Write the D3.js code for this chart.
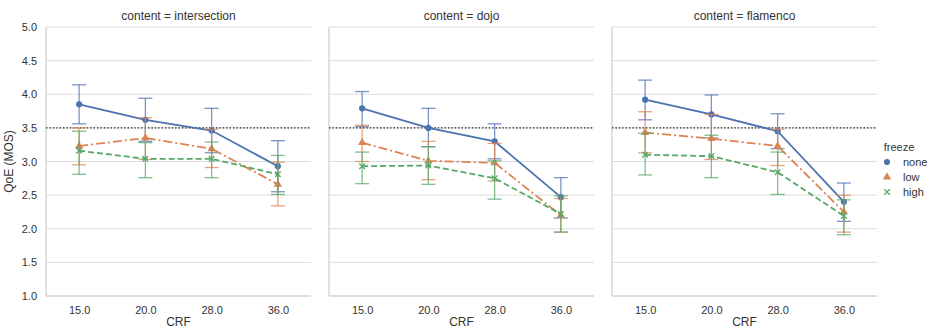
<!DOCTYPE html>
<html>
<head>
<meta charset="utf-8">
<script src="https://cdn.jsdelivr.net/npm/d3@7"></script>
<style>
  body { margin: 0; background: #fff; }
  text { font-family: "Liberation Sans", Arial, sans-serif; fill: #333; }
</style>
</head>
<body>
<div id="chart"></div>
<script>
// data
const contents = ['intersection', 'dojo', 'flamenco'];
const crfLabels = ['15.0', '20.0', '28.0', '36.0'];
const freezeLevels = ['none', 'low', 'high'];
const yTicks = [1.0, 1.5, 2.0, 2.5, 3.0, 3.5, 4.0, 4.5, 5.0];
const threshold = 3.5;

// mean, lower, upper per content -> freeze -> crf
const intersectionNone = [[3.85, 3.56, 4.14], [3.62, 3.30, 3.94], [3.46, 3.13, 3.79], [2.93, 2.55, 3.31]];
const intersectionLow  = [[3.23, 2.95, 3.50], [3.35, 3.03, 3.65], [3.19, 2.91, 3.48], [2.66, 2.34, 2.99]];
const intersectionHigh = [[3.16, 2.81, 3.45], [3.04, 2.76, 3.28], [3.04, 2.76, 3.29], [2.81, 2.51, 3.09]];

const dojoNone = [[3.79, 3.52, 4.04], [3.50, 3.22, 3.79], [3.30, 3.04, 3.56], [2.47, 2.16, 2.76]];
const dojoLow  = [[3.28, 3.00, 3.54], [3.01, 2.73, 3.30], [2.98, 2.71, 3.27], [2.20, 1.95, 2.45]];
const dojoHigh = [[2.93, 2.67, 3.14], [2.94, 2.66, 3.22], [2.75, 2.44, 3.01], [2.22, 1.95, 2.49]];

const flamencoNone = [[3.92, 3.62, 4.21], [3.70, 3.35, 3.99], [3.45, 3.19, 3.71], [2.40, 2.11, 2.68]];
const flamencoLow  = [[3.43, 3.13, 3.74], [3.34, 3.03, 3.70], [3.23, 2.94, 3.48], [2.25, 1.95, 2.50]];
const flamencoHigh = [[3.10, 2.80, 3.42], [3.08, 2.76, 3.39], [2.84, 2.51, 3.14], [2.19, 1.91, 2.43]];

const seriesByContent = {
  intersection: [intersectionNone, intersectionLow, intersectionHigh],
  dojo: [dojoNone, dojoLow, dojoHigh],
  flamenco: [flamencoNone, flamencoLow, flamencoHigh]
};

const colors = ['#4c72b0', '#dd8452', '#55a868'];
const dashes = [null, '9,3,2,3', '6,3'];
const symbols = [d3.symbolCircle, d3.symbolTriangle, d3.symbolX];

const width = 934, height = 329;
const panel = { top: 27, height: 269, width: 265, gap: 18, left0: 46 };

const svg = d3.select('#chart')
  .append('svg')
    .attr('width', width)
    .attr('height', height);

const y = d3.scaleLinear()
  .domain([1, 5])
  .range([panel.top + panel.height, panel.top]);

contents.forEach((content, ci) => {
  const x0 = panel.left0 + ci * (panel.width + panel.gap);

  const x = d3.scalePoint()
    .domain(crfLabels)
    .range([x0, x0 + panel.width])
    .padding(0.5);

  const g = svg.append('g');

  // horizontal grid
  g.append('g')
    .selectAll('line')
    .data(yTicks)
    .enter()
    .append('line')
      .attr('x1', x0)
      .attr('x2', x0 + panel.width)
      .attr('y1', d => y(d))
      .attr('y2', d => y(d))
      .attr('stroke', '#dcdcdc')
      .attr('stroke-width', 1);

  // spines
  g.append('line')
    .attr('x1', x0).attr('x2', x0)
    .attr('y1', y(5)).attr('y2', y(1))
    .attr('stroke', '#cccccc').attr('stroke-width', 1.2);
  g.append('line')
    .attr('x1', x0).attr('x2', x0 + panel.width)
    .attr('y1', y(1)).attr('y2', y(1))
    .attr('stroke', '#cccccc').attr('stroke-width', 1.2);

  // y tick labels only on the first panel
  if (ci === 0) {
    const yAxis = d3.axisLeft(y)
      .tickValues(yTicks)
      .tickSize(0)
      .tickPadding(9)
      .tickFormat(d3.format('.1f'));
    g.append('g')
      .attr('transform', 'translate(' + x0 + ',0)')
      .call(yAxis)
      .call(s => s.select('.domain').remove())
      .selectAll('text')
        .style('font-size', '11px')
        .attr('fill', '#444');
  }

  const xAxis = d3.axisBottom(x).tickSize(0).tickPadding(10);
  g.append('g')
    .attr('transform', 'translate(0,' + y(1) + ')')
    .call(xAxis)
    .call(s => s.select('.domain').remove())
    .selectAll('text')
      .style('font-size', '11px')
      .attr('fill', '#444');

  g.append('text')
    .attr('x', x0 + panel.width / 2)
    .attr('y', height - 3)
    .attr('text-anchor', 'middle')
    .style('font-size', '12px')
    .attr('fill', '#444')
    .text('CRF');

  g.append('text')
    .attr('x', x0 + panel.width / 2)
    .attr('y', 20)
    .attr('text-anchor', 'middle')
    .style('font-size', '12px')
    .text('content = ' + content);

  // threshold line
  g.append('line')
    .attr('x1', x0).attr('x2', x0 + panel.width)
    .attr('y1', y(threshold)).attr('y2', y(threshold))
    .attr('stroke', '#222')
    .attr('stroke-width', 1.4)
    .attr('stroke-dasharray', '1.4,2');

  const series = seriesByContent[content];

  series.forEach((vals, si) => {
    const pts = vals.map((v, i) => ({ crf: crfLabels[i], mean: v[0], lo: v[1], hi: v[2] }));
    const sg = g.append('g');

    // error bars
    const eb = sg.selectAll('g.err')
      .data(pts)
      .enter()
      .append('g')
        .attr('stroke', colors[si])
        .attr('stroke-opacity', 0.75)
        .attr('stroke-width', 1.3);
    eb.append('line')
      .attr('x1', d => x(d.crf)).attr('x2', d => x(d.crf))
      .attr('y1', d => y(d.lo)).attr('y2', d => y(d.hi));
    eb.append('line')
      .attr('x1', d => x(d.crf) - 7).attr('x2', d => x(d.crf) + 7)
      .attr('y1', d => y(d.lo)).attr('y2', d => y(d.lo));
    eb.append('line')
      .attr('x1', d => x(d.crf) - 7).attr('x2', d => x(d.crf) + 7)
      .attr('y1', d => y(d.hi)).attr('y2', d => y(d.hi));

    sg.append('path')
      .datum(pts)
      .attr('fill', 'none')
      .attr('stroke', colors[si])
      .attr('stroke-width', 1.8)
      .attr('stroke-dasharray', dashes[si])
      .attr('d', d3.line()
        .x(d => x(d.crf))
        .y(d => y(d.mean)));

    sg.selectAll('path.mark')
      .data(pts)
      .enter()
      .append('path')
        .attr('class', 'mark')
        .attr('transform', d => 'translate(' + x(d.crf) + ',' + y(d.mean) + ')')
        .attr('d', d3.symbol().type(symbols[si]).size(si === 2 ? 22 : 30))
        .attr('fill', si === 2 ? 'none' : colors[si])
        .attr('stroke', colors[si])
        .attr('stroke-width', si === 2 ? 1.3 : 0);
  });
});

// y axis title
svg.append('text')
  .attr('transform', 'translate(13,' + y(3) + ') rotate(-90)')
  .attr('text-anchor', 'middle')
  .style('font-size', '12px')
  .attr('fill', '#444')
  .text('QoE (MOS)');

// legend
const legend = svg.append('g');
legend.append('text')
  .attr('x', 899)
  .attr('y', 151)
  .attr('text-anchor', 'middle')
  .style('font-size', '11px')
  .text('freeze');

freezeLevels.forEach((lvl, i) => {
  const ly = 162 + i * 15;
  legend.append('path')
    .attr('transform', 'translate(887,' + ly + ')')
    .attr('d', d3.symbol().type(symbols[i]).size(i === 2 ? 22 : 30))
    .attr('fill', i === 2 ? 'none' : colors[i])
    .attr('stroke', colors[i])
    .attr('stroke-width', i === 2 ? 1.3 : 0);
  legend.append('text')
    .attr('x', 903)
    .attr('y', ly + 4)
    .style('font-size', '11px')
    .text(lvl);
});
</script>
</body>
</html>
